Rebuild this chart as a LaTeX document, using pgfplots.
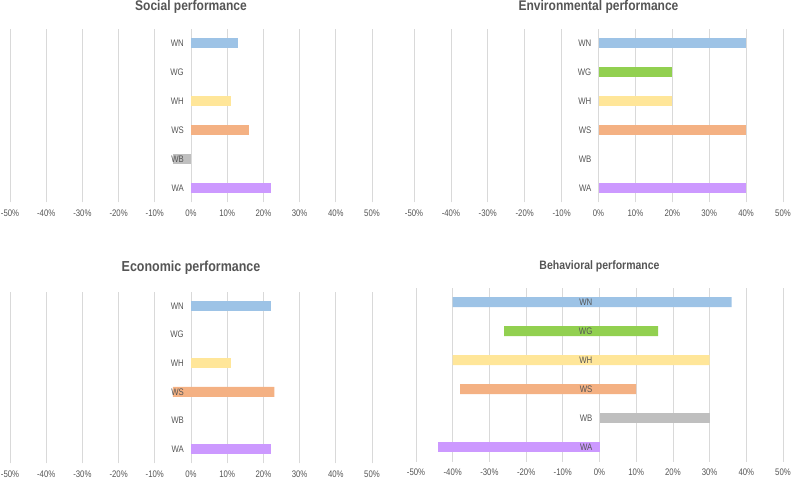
\documentclass[border=0pt]{standalone}
\usepackage{fontspec}
\setmainfont{Liberation Sans}
\newfontfamily\narrowfont[FakeStretch=0.82]{Liberation Sans}
\newfontfamily\titlefont[FakeStretch=0.86]{Liberation Sans}
\usepackage{pgfplots}
\pgfplotsset{compat=1.18}
\definecolor{cWN}{HTML}{9DC3E6}
\definecolor{cWG}{HTML}{92D050}
\definecolor{cWH}{HTML}{FFE699}
\definecolor{cWS}{HTML}{F4B183}
\definecolor{cWB}{HTML}{BFBFBF}
\definecolor{cWA}{HTML}{CC99FF}
\definecolor{txt}{HTML}{555555}
\definecolor{gridc}{HTML}{D9D9D9}
\pgfplotsset{
  panel/.style={
    anchor=south west, scale only axis,
    xmin=-50, xmax=50, ymin=-0.5, ymax=5.5,
    xtick={-50,-40,-30,-20,-10,0,10,20,30,40,50},
    xticklabels={-50\%,-40\%,-30\%,-20\%,-10\%,0\%,10\%,20\%,30\%,40\%,50\%},
    ytick=\empty,
    xmajorgrids, grid style={color=gridc, line width=0.8bp},
    axis line style={draw=none}, major tick length=0pt,
    xticklabel style={font=\narrowfont\fontsize{9.5bp}{10bp}\selectfont, text=txt, yshift=-4bp},
    title style={at={(0.5,1)}, anchor=center, text=txt},
    every axis plot/.append style={xbar, bar width=10bp, bar shift=0pt, draw=none},
    clip=false,
  },
}
\tikzset{
  cat/.style={anchor=east, inner sep=0pt, xshift=-7bp, text=txt, font=\narrowfont\fontsize{9.5bp}{10bp}\selectfont},
}
\newcommand{\catlabels}{%
  \node[cat] at (axis cs:0,5) {WN};
  \node[cat] at (axis cs:0,4) {WG};
  \node[cat] at (axis cs:0,3) {WH};
  \node[cat] at (axis cs:0,2) {WS};
  \node[cat] at (axis cs:0,1) {WB};
  \node[cat] at (axis cs:0,0) {WA};
}
\begin{document}
\begin{tikzpicture}
\useasboundingbox (0,0) rectangle (791bp,479bp);
% Social
\begin{axis}[panel, at={(10bp,276.5bp)}, width=362bp, height=174bp,
  title style={yshift=15.5bp},
  title={\titlefont\bfseries\fontsize{14bp}{15bp}\selectfont Social performance}]
\addplot[fill=cWN] coordinates {(13,5)};
\addplot[fill=cWH] coordinates {(11,3)};
\addplot[fill=cWS] coordinates {(16,2)};
\addplot[fill=cWB] coordinates {(-5,1)};
\addplot[fill=cWA] coordinates {(22,0)};
\catlabels
\end{axis}
% Environmental
\begin{axis}[panel, at={(414bp,276.5bp)}, width=369bp, height=174bp,
  title style={yshift=15.5bp},
  title={\titlefont\bfseries\fontsize{14bp}{15bp}\selectfont Environmental performance}]
\addplot[fill=cWN] coordinates {(40,5)};
\addplot[fill=cWG] coordinates {(20,4)};
\addplot[fill=cWH] coordinates {(20,3)};
\addplot[fill=cWS] coordinates {(40,2)};
\addplot[fill=cWA] coordinates {(40,0)};
\catlabels
\end{axis}
% Economic
\begin{axis}[panel, at={(10bp,15.7bp)}, width=362bp, height=171.6bp,
  title style={yshift=17.5bp},
  title={\titlefont\bfseries\fontsize{14.5bp}{15bp}\selectfont Economic performance}]
\addplot[fill=cWN] coordinates {(22,5)};
\addplot[fill=cWH] coordinates {(11,3)};
\addplot[fill=cWS] coordinates {(-5,2) (23,2)};
\addplot[fill=cWA] coordinates {(22,0)};
\catlabels
\end{axis}
% Behavioral
\begin{axis}[panel, at={(416bp,17.5bp)}, width=367bp, height=174bp,
  title style={yshift=15.5bp},
  title={\titlefont\bfseries\fontsize{12.2bp}{13bp}\selectfont Behavioral performance}]
\addplot[fill=cWN] coordinates {(-40,5) (36,5)};
\addplot[fill=cWG] coordinates {(-26,4) (16,4)};
\addplot[fill=cWH] coordinates {(-40,3) (30,3)};
\addplot[fill=cWS] coordinates {(-38,2) (10,2)};
\addplot[fill=cWB] coordinates {(30,1)};
\addplot[fill=cWA] coordinates {(-44,0)};
\catlabels
\end{axis}
\end{tikzpicture}
\end{document}
